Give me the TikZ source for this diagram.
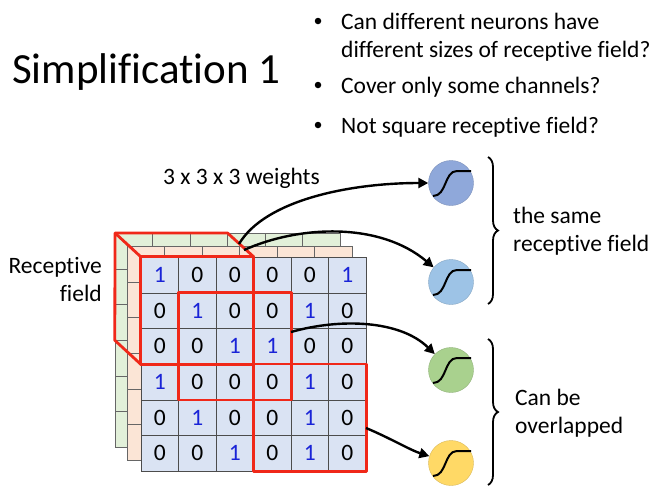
\documentclass[tikz,border=0pt]{standalone}
\usepackage{fontspec}
\setmainfont{Carlito}[Ligatures=CommonOff]
\usepackage{tikz}
\usetikzlibrary{arrows.meta, positioning, decorations.pathreplacing}
\definecolor{cellblue}{RGB}{218,227,243}
\definecolor{cellorange}{RGB}{251,229,214}
\definecolor{cellgreen}{RGB}{226,240,217}
\definecolor{onesblue}{RGB}{25,35,215}
\definecolor{fieldred}{RGB}{240,40,25}
\definecolor{neurondeep}{RGB}{143,168,218}
\definecolor{neuronsky}{RGB}{157,195,230}
\definecolor{neurongreen}{RGB}{169,209,142}
\definecolor{neuronyellow}{RGB}{255,217,102}

\begin{document}
\begin{tikzpicture}[
    x=1pt, y=-1pt,
    txt/.style={font=\fontsize{23.5}{28}\selectfont, inner sep=0pt},
    title/.style={font=\fontsize{43}{50}\selectfont, inner sep=0pt},
    cell/.style={draw=black!70, fill=cellblue, minimum width=37.5pt, minimum height=35.7pt, inner sep=0pt, font=\fontsize{23.5}{28}\selectfont},
    backcell/.style={draw=black!60, fill=#1},
    field/.style={draw=fieldred, line width=2.8pt, line join=round},
    neuron/.style={circle, fill=#1, draw=#1!85!black, minimum size=45pt, inner sep=0pt},
    sigmoid/.style={line width=2pt},
    dot/.style={circle, fill=black, minimum size=6.5pt, inner sep=0pt},
    link/.style={-{Triangle[length=10pt, width=10pt]}, line width=2.4pt},
    curly/.style={decorate, decoration={brace, amplitude=10pt, aspect=0.5}, line width=1.8pt}
]
\useasboundingbox (0,0) rectangle (655,491);

% title and questions
\node[title, anchor=base west] (title) at (12,83) {Simplification 1};
\node[dot] (d1) at (318,21) {};
\node[txt, anchor=base west] (q1a) at (341,29) {Can different neurons have};
\node[txt, anchor=base west] (q1b) at (341,57) {different sizes of receptive field?};
\node[dot] (d2) at (318,85) {};
\node[txt, anchor=base west] (q2) at (341,93) {Cover only some channels?};
\node[dot] (d3) at (318,125) {};
\node[txt, anchor=base west] (q3) at (341,133) {Not square receptive field?};

% channels behind
\foreach \lx/\ly/\lc in {115/233/cellgreen, 127/246/cellorange} {
  \foreach \r in {0,...,5}
    \foreach \c in {0,...,5}
      \draw[backcell=\lc] (\lx+\c*37.5, \ly+\r*35.7) rectangle ++(37.5,35.7);
}

% front channel
\foreach \row [count=\r] in {{1,0,0,0,0,1},{0,1,0,0,1,0},{0,0,1,1,0,0},{1,0,0,0,1,0},{0,1,0,0,1,0},{0,0,1,0,1,0}} {
  \foreach \v [count=\c] in \row {
    \node[cell] (c\r\c) at (141+\c*37.5-18.75, 257+\r*35.7-17.85) {\ifnum\v=1 \textcolor{onesblue}{1}\else 0\fi};
  }
}

% receptive fields
\draw[field] (c31.south west) -- ++(-26,-24) -- (115,233) -- (227.5,233) -- (c13.north east);
\draw[field] (115,233) -- (c11.north west);
\draw[field] (c11.north west) rectangle (c33.south east);
\draw[field] (c22.north west) rectangle (c44.south east);
\draw[field] (c44.north west) rectangle (c66.south east);

\node[txt, anchor=base west] (wts) at (163,184) {3 x 3 x 3 weights};
\node[txt, align=right, anchor=east] (rf) at (102,279) {Receptive\\field};

% neurons
\node[neuron=neurondeep] (n1) at (451,183) {};
\node[neuron=neuronsky] (n2) at (451,282) {};
\node[neuron=neurongreen] (n3) at (451,370) {};
\node[neuron=neuronyellow] (n4) at (451,463) {};
\foreach \n in {n1,n2,n3,n4}
  \draw[sigmoid, shift={(\n)}] (-18,13) .. controls (-4,13) and (-7,-12) .. (6,-12) -- (20,-12);

% connections
\coordinate (w1) at (239,244);
\coordinate (w2) at (244,250);
\coordinate (w3) at (291,332);
\coordinate (w4) at (366,428);
\draw[link] (w1) .. controls (265,200) and (350,183) .. (n1);
\draw[link] (w2) .. controls (300,225) and (380,222) .. (n2);
\draw[link] (w3) .. controls (340,318) and (400,320) .. (n3);
\draw[link] (w4) .. controls (390,438) and (410,450) .. (n4);

% groups
\draw[curly] (488,157) -- (488,304);
\draw[curly] (488,339) -- (488,485);
\node[txt, align=left, anchor=west] (same) at (513,231) {the same\\receptive field};
\node[txt, align=left, anchor=west] (overlap) at (515,413) {Can be\\overlapped};

\end{tikzpicture}
\end{document}
